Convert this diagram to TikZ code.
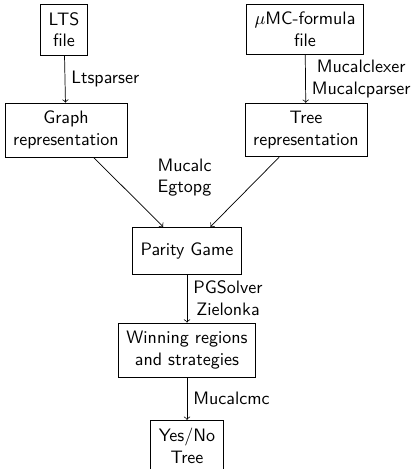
\documentclass[tikz,border=0pt]{standalone}
\begin{document}
\begin{tikzpicture}[x=0.5556pt,y=-0.5556pt,font=\sffamily,
  box/.style={draw,align=center,inner sep=4.5pt,minimum height=26pt},
  lbl/.style={align=center}]
\useasboundingbox (0,0) rectangle (410,469);
\node[box] (lts) at (64,29.5) {LTS\\file};
\node[box] (mu) at (305,29.5) {$\mu$MC-formula\\file};
\node[box] (graph) at (66,130) {Graph\\representation};
\node[box] (tree) at (306,130) {Tree\\representation};
\node[box] (parity) at (187,250.5) {Parity Game};
\node[box] (win) at (187,350) {Winning regions\\and strategies};
\node[box] (yesno) at (187,446) {Yes/No\\Tree};
\node[lbl] (mucalc) at (184.5,177.5) {Mucalc\\Egtopg};
\draw[->] (lts) -- node[right,lbl] {Ltsparser} (graph);
\draw[->] (mu) -- node[right,lbl] {Mucalclexer\\Mucalcparser} (tree);
\draw[->] (graph) -- (parity);
\draw[->] (tree) -- (parity);
\draw[->] (parity) -- node[right,lbl] {PGSolver\\Zielonka} (win);
\draw[->] (win) -- node[right,lbl] {Mucalcmc} (yesno);
\end{tikzpicture}
\end{document}
